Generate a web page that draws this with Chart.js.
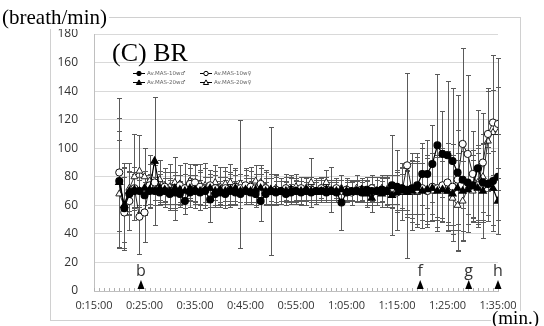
<!DOCTYPE html>
<html>
<head>
<meta charset="utf-8">
<script src="https://cdn.jsdelivr.net/npm/chart.js@4"></script>
<style>
  body { margin: 0; background: #fff; }
  canvas { display: block; }
</style>
</head>
<body>
<canvas id="br-chart" width="544" height="326"></canvas>
<script>
// one sample per minute, 0:20:00 .. 1:35:00
const firstMinute = 20;
const axisStartMinute = 15;
const axisEndMinute = 95;
const axisStepMinutes = 10;

const yMin = 0;
const yMax = 180;
const yStep = 20;

const seriesNames = ['Av.MAS-10w\u2642', 'Av.MAS-20w\u2642', 'Av.MAS-10w\u2640', 'Av.MAS-20w\u2640'];

// breath rate (breath/min)
const br10M = [
    77, 58, 68, 70, 70, 67, 70, 70,
    69, 70, 68, 69, 68, 63, 69, 70, 69, 70, 64, 68,
    69, 68, 70, 69, 68, 70, 69, 68, 63, 68, 70, 69,
    70, 68, 69, 70, 69, 70, 69, 70, 70, 69, 70, 69,
    62, 69, 70, 70, 69, 71, 70, 70, 71, 70, 74, 73,
    72, 71, 72, 74, 82, 82, 89, 102, 96, 95, 91, 83,
    78, 76, 74, 86, 76, 75, 77, 80
];
const br20M = [
    76, 60, 70, 71, 70, 72, 71, 91,
    72, 71, 70, 72, 71, 70, 72, 71, 70, 71, 72, 70,
    71, 70, 71, 72, 70, 71, 70, 71, 72, 70, 71, 70,
    69, 70, 71, 70, 70, 71, 70, 69, 70, 71, 70, 70,
    71, 70, 69, 70, 71, 68, 65, 70, 68, 69, 67, 69,
    70, 69, 70, 72, 70, 71, 72, 70, 71, 70, 68, 72,
    70, 71, 73, 72, 70, 75, 72, 63
];
const br10F = [
    83, 55, 63, 72, 52, 55, 74, 76,
    72, 73, 70, 72, 74, 72, 75, 76, 73, 72, 74, 72,
    70, 72, 71, 73, 72, 74, 73, 72, 75, 72, 70, 71,
    70, 72, 71, 70, 72, 70, 71, 70, 72, 71, 70, 72,
    70, 71, 69, 70, 71, 70, 72, 70, 71, 70, 71, 69,
    70, 88, 70, 71, 72, 70, 73, 72, 74, 76, 73, 78,
    103, 96, 82, 74, 90, 110, 118, 117
];
const br20F = [
    68, 60, 72, 80, 84, 80, 77, 75,
    78, 74, 73, 76, 75, 72, 77, 73, 75, 74, 72, 76,
    73, 75, 76, 74, 75, 73, 74, 77, 76, 73, 71, 72,
    70, 72, 71, 73, 70, 72, 76, 70, 72, 76, 71, 70,
    72, 71, 70, 72, 71, 70, 71, 70, 72, 71, 70, 71,
    72, 70, 71, 69, 72, 71, 70, 72, 74, 70, 65, 60,
    63, 72, 70, 76, 80, 105, 111, 111
];

// standard deviations (error bars)
const sd10M = [
    35, 29, 15, 12, 10, 14, 12, 10,
    8, 9, 10, 12, 9, 9, 10, 8, 9, 10, 16, 9,
    8, 10, 9, 8, 10, 9, 8, 9, 14, 8, 9, 8,
    7, 8, 6, 7, 8, 6, 7, 6, 8, 7, 6, 7,
    19, 7, 6, 8, 7, 9, 10, 8, 9, 10, 35, 12,
    15, 14, 18, 20, 22, 24, 27, 50, 30, 52, 51, 54,
    20, 22, 25, 41, 28, 26, 35, 30
];
const sd20M = [
    45, 30, 14, 12, 15, 12, 10, 45,
    10, 12, 9, 11, 10, 12, 9, 10, 13, 9, 10, 11,
    9, 10, 12, 9, 12, 10, 9, 11, 10, 9, 8, 10,
    8, 7, 9, 8, 7, 8, 6, 7, 8, 7, 8, 6,
    7, 8, 9, 7, 8, 9, 10, 8, 9, 10, 9, 14,
    12, 15, 27, 18, 20, 22, 18, 25, 20, 24, 22, 25,
    28, 24, 22, 25, 33, 22, 26, 23
];
const sd10F = [
    52, 25, 20, 15, 26, 21, 15, 12,
    12, 10, 13, 22, 14, 18, 11, 13, 12, 14, 11, 12,
    10, 12, 11, 13, 10, 12, 11, 10, 13, 11, 45, 10,
    9, 8, 10, 9, 8, 10, 9, 8, 7, 9, 8, 7,
    8, 7, 9, 8, 7, 8, 9, 10, 8, 9, 10, 12,
    20, 65, 22, 26, 28, 25, 24, 30, 26, 28, 30, 35,
    67, 55, 30, 26, 35, 32, 47, 46
];
const sd20F = [
    38, 26, 18, 30, 25, 20, 18, 15,
    14, 12, 16, 18, 13, 18, 12, 15, 14, 16, 13, 12,
    14, 12, 13, 11, 45, 12, 13, 11, 10, 12, 11, 10,
    9, 10, 8, 9, 10, 8, 17, 9, 8, 9, 16, 8,
    9, 8, 7, 9, 8, 10, 9, 8, 9, 10, 11, 28,
    14, 18, 20, 22, 18, 24, 20, 22, 25, 28, 30, 32,
    28, 25, 22, 26, 30, 35, 30, 32
];

// event markers under the curves
const eventLabels = ['b', 'f', 'g', 'h'];
const eventMinutes = [24.3, 79.6, 89.2, 95];

const toPoints = vals => vals.map((v, i) => ({ x: firstMinute + i, y: v }));

const fmtTime = v => {
    const h = Math.floor(v / 60);
    const m = Math.round(v % 60);
    return h + ':' + String(m).padStart(2, '0') + ':00';
};

Chart.defaults.font.family = "'Open Sans', sans-serif";
Chart.defaults.color = '#333';

// white frame around the chart + unit labels
const framePlugin = {
    id: 'frame',
    beforeDraw(chart) {
        const ctx = chart.ctx;
        ctx.save();
        ctx.fillStyle = '#fff';
        ctx.fillRect(0, 0, chart.width, chart.height);
        ctx.strokeStyle = '#d0d0d0';
        ctx.lineWidth = 1;
        ctx.strokeRect(50.5, 17.5, 470, 303);
        ctx.restore();
    },
    afterDraw(chart) {
        const ctx = chart.ctx;
        ctx.save();
        ctx.font = "21px 'Liberation Serif', serif";
        ctx.textBaseline = 'alphabetic';
        ctx.fillStyle = '#fff';
        ctx.fillRect(0, 0, ctx.measureText('(breath/min)').width + 4, 29);
        ctx.fillStyle = '#000';
        ctx.fillText('(breath/min)', 2, 24);

        ctx.font = "19px 'Liberation Serif', serif";
        ctx.fillStyle = '#fff';
        ctx.fillRect(491, 311, 53, 15);
        ctx.fillStyle = '#000';
        ctx.fillText('(min.)', 492, 324);

        ctx.font = "26px 'Liberation Serif', serif";
        ctx.fillText('(C) BR', 112, 61);
        ctx.restore();
    }
};

const errorBarPlugin = {
    id: 'errorBars',
    beforeDatasetsDraw(chart) {
        const { ctx, scales: { y } } = chart;
        ctx.save();
        ctx.strokeStyle = '#5a5a5a';
        ctx.lineWidth = 1;
        chart.data.datasets.forEach((ds, di) => {
            const meta = chart.getDatasetMeta(di);
            meta.data.forEach((pt, i) => {
                const v = ds.data[i].y;
                const e = ds.sd[i];
                const top = Math.round(y.getPixelForValue(v + e)) + 0.5;
                const bot = Math.round(y.getPixelForValue(v - e)) + 0.5;
                const x = Math.round(pt.x) + 0.5;
                ctx.beginPath();
                ctx.moveTo(x, top); ctx.lineTo(x, bot);
                ctx.moveTo(x - 2.5, top); ctx.lineTo(x + 2.5, top);
                ctx.moveTo(x - 2.5, bot); ctx.lineTo(x + 2.5, bot);
                ctx.stroke();
            });
        });
        ctx.restore();
    }
};

// minor ticks, event triangles and the small legend
const decorPlugin = {
    id: 'decor',
    afterDraw(chart) {
        const { ctx, chartArea, scales: { x } } = chart;
        ctx.save();
        ctx.strokeStyle = '#b0b0b0';
        ctx.lineWidth = 1;
        ctx.beginPath();
        for (let m = axisStartMinute; m <= axisEndMinute; m++) {
            const px = Math.round(x.getPixelForValue(m)) + 0.5;
            ctx.moveTo(px, chartArea.bottom);
            ctx.lineTo(px, chartArea.bottom - 3);
        }
        ctx.stroke();

        ctx.fillStyle = '#000';
        ctx.font = "16px 'Open Sans', sans-serif";
        ctx.textAlign = 'center';
        ctx.textBaseline = 'alphabetic';
        eventMinutes.forEach((m, i) => {
            const px = x.getPixelForValue(m);
            const base = chartArea.bottom - 2;
            ctx.beginPath();
            ctx.moveTo(px - 3.5, base);
            ctx.lineTo(px + 3.5, base);
            ctx.lineTo(px, base - 9);
            ctx.closePath();
            ctx.fill();
            ctx.fillStyle = '#333';
            ctx.fillText(eventLabels[i], px, 276);
            ctx.fillStyle = '#000';
        });

        // legend, 2 x 2
        const cols = [133, 200];
        const rows = [73.5, 82.5];
        ctx.font = "5.5px 'DejaVu Sans', sans-serif";
        ctx.textAlign = 'left';
        ctx.textBaseline = 'middle';
        chart.data.datasets.forEach((ds, i) => {
            const lx = cols[i >> 1];
            const ly = rows[i & 1];
            ctx.strokeStyle = '#000';
            ctx.beginPath();
            ctx.moveTo(lx, ly); ctx.lineTo(lx + 12, ly);
            ctx.stroke();
            const cx = lx + 6;
            ctx.beginPath();
            if (ds.pointStyle === 'circle') {
                ctx.arc(cx, ly, 2.2, 0, Math.PI * 2);
            } else {
                ctx.moveTo(cx - 2.6, ly + 2); ctx.lineTo(cx + 2.6, ly + 2); ctx.lineTo(cx, ly - 2.6);
                ctx.closePath();
            }
            ctx.fillStyle = ds.pointBackgroundColor;
            ctx.fill();
            ctx.stroke();
            ctx.fillStyle = '#666';
            ctx.fillText(ds.label, lx + 14, ly);
        });
        ctx.restore();
    }
};

const ctx = document.getElementById('br-chart').getContext('2d');
const brChart = new Chart(ctx, {
    type: 'line',
    data: {
        datasets: [{
            label: seriesNames[0],
            data: toPoints(br10M),
            sd: sd10M,
            borderColor: '#000',
            borderWidth: 1.2,
            pointStyle: 'circle',
            pointRadius: 3.4,
            pointBackgroundColor: '#000',
            pointBorderColor: '#000'
        }, {
            label: seriesNames[1],
            data: toPoints(br20M),
            sd: sd20M,
            borderColor: '#000',
            borderWidth: 1.2,
            pointStyle: 'triangle',
            pointRadius: 4,
            pointBackgroundColor: '#000',
            pointBorderColor: '#000'
        }, {
            label: seriesNames[2],
            data: toPoints(br10F),
            sd: sd10F,
            borderColor: '#222',
            borderWidth: 1,
            pointStyle: 'circle',
            pointRadius: 3.6,
            pointBackgroundColor: '#fff',
            pointBorderColor: '#111',
            pointBorderWidth: 1
        }, {
            label: seriesNames[3],
            data: toPoints(br20F),
            sd: sd20F,
            borderColor: '#333',
            borderWidth: 1,
            pointStyle: 'triangle',
            pointRadius: 4,
            pointBackgroundColor: '#fff',
            pointBorderColor: '#222',
            pointBorderWidth: 1
        }]
    },
    options: {
        responsive: false,
        animation: false,
        devicePixelRatio: 1,
        layout: { padding: { left: 50, right: 46, top: 34, bottom: 8 } },
        plugins: {
            legend: { display: false },
            tooltip: { enabled: false }
        },
        scales: {
            x: {
                type: 'linear',
                min: axisStartMinute,
                max: axisEndMinute,
                ticks: {
                    stepSize: axisStepMinutes,
                    callback: fmtTime,
                    font: { size: 11 },
                    color: '#333',
                    padding: 8,
                    maxRotation: 0,
                    autoSkip: false
                },
                grid: { display: false, drawTicks: false },
                border: { color: '#bfbfbf' },
                afterFit: s => { s.height = 27; }
            },
            y: {
                min: yMin,
                max: yMax,
                ticks: {
                    stepSize: yStep,
                    font: { size: 12 },
                    color: '#333',
                    padding: 16
                },
                grid: { color: '#d9d9d9', drawTicks: false },
                border: { color: '#bfbfbf' },
                afterFit: s => { s.width = 44; }
            }
        }
    },
    plugins: [framePlugin, errorBarPlugin, decorPlugin]
});
</script>
</body>
</html>
